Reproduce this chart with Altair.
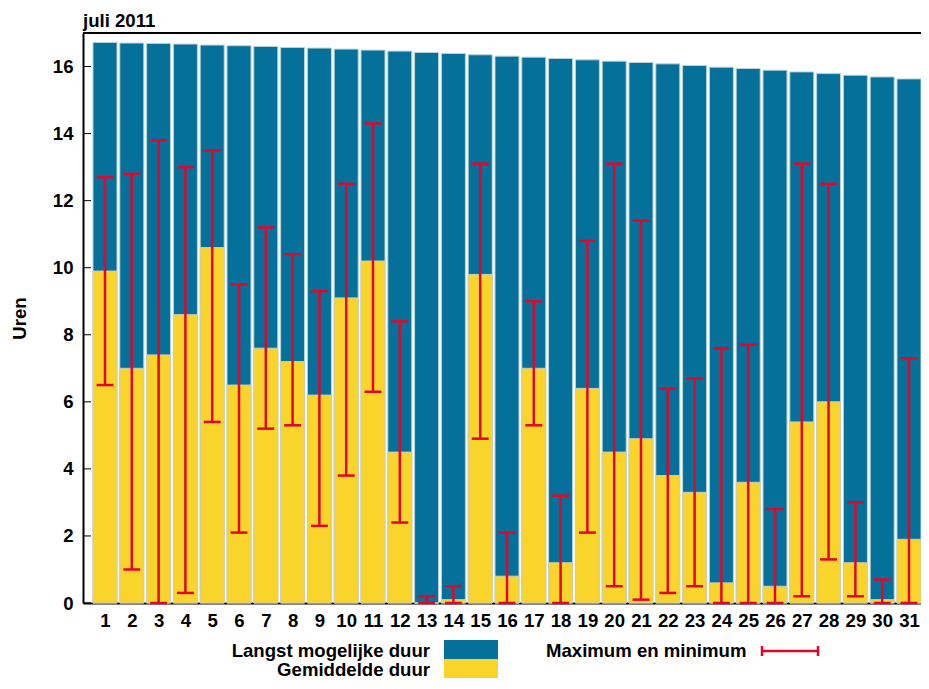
import altair as alt
import pandas as pd

# ---- data ----
dagen = list(range(1, 32))
langst = [16.72, 16.70, 16.69, 16.67, 16.64, 16.62, 16.60, 16.57, 16.55, 16.52,
          16.49, 16.46, 16.42, 16.39, 16.35, 16.31, 16.28, 16.24, 16.20, 16.16,
          16.12, 16.08, 16.03, 15.98, 15.94, 15.89, 15.84, 15.79, 15.74, 15.69, 15.63]
gemiddeld = [9.9, 7.0, 7.4, 8.6, 10.6, 6.5, 7.6, 7.2, 6.2, 9.1,
             10.2, 4.5, 0.0, 0.1, 9.8, 0.8, 7.0, 1.2, 6.4, 4.5,
             4.9, 3.8, 3.3, 0.6, 3.6, 0.5, 5.4, 6.0, 1.2, 0.1, 1.9]
maximum = [12.7, 12.8, 13.8, 13.0, 13.5, 9.5, 11.2, 10.4, 9.3, 12.5,
           14.3, 8.4, 0.2, 0.5, 13.1, 2.1, 9.0, 3.2, 10.8, 13.1,
           11.4, 6.4, 6.7, 7.6, 7.7, 2.8, 13.1, 12.5, 3.0, 0.7, 7.3]
minimum = [6.5, 1.0, 0.0, 0.3, 5.4, 2.1, 5.2, 5.3, 2.3, 3.8,
           6.3, 2.4, 0.0, 0.0, 4.9, 0.0, 5.3, 0.0, 2.1, 0.5,
           0.1, 0.3, 0.5, 0.0, 0.0, 0.0, 0.2, 1.3, 0.2, 0.0, 0.0]
y_ticks = [0, 2, 4, 6, 8, 10, 12, 14, 16]
title_text = "juli 2011"
y_title = "Uren"
legend_labels = ["Langst mogelijke duur", "Gemiddelde duur", "Maximum en minimum"]

# ---- style ----
BLUE = "#05709a"
YELLOW = "#f9d42a"
RED = "#e3062c"
EDGE = "#b9d3da"
FONT = "Liberation Sans"
FS = 18.6
W, H = 838, 570

df = pd.DataFrame({"dag": dagen, "langst": langst, "gemiddeld": gemiddeld,
                   "maximum": maximum, "minimum": minimum})

xscale = alt.Scale(domain=[0.179, 31.448], nice=False, zero=False)
yscale = alt.Scale(domain=[0, 17], nice=False, zero=False)

xaxis = alt.Axis(values=dagen, title=None, ticks=False, tickSize=0, labelPadding=8,
                 labelFontSize=FS, labelFont=FONT, labelFontWeight="bold",
                 labelColor="black", domainColor="black", domainWidth=2, grid=False,
                 labelFlush=False, labelOverlap=False, labelBound=False)
yaxis = alt.Axis(values=y_ticks, title=y_title, titleFont=FONT, titleFontSize=FS,
                 titleFontWeight="bold", titleColor="black", titlePadding=23,
                 ticks=False, tickSize=0, labelPadding=10, labelFontSize=FS,
                 labelFont=FONT, labelFontWeight="bold", labelColor="black",
                 domainColor="black", domainWidth=2, grid=False, labelOverlap=False)

base = alt.Chart(df).transform_calculate(
    x0="datum.dag - 0.448", x1="datum.dag + 0.448",
    c0="datum.dag - 0.315", c1="datum.dag + 0.315")

blue = base.mark_rect(color=BLUE, stroke=EDGE, strokeWidth=1).encode(
    x=alt.X("x0:Q", scale=xscale, axis=xaxis), x2="x1:Q",
    y=alt.Y("langst:Q", scale=yscale, axis=yaxis), y2=alt.datum(0))
yellow = base.mark_rect(color=YELLOW, stroke="#cfcdb8", strokeWidth=1).encode(
    x=alt.X("x0:Q", scale=xscale, axis=xaxis), x2="x1:Q",
    y=alt.Y("gemiddeld:Q", scale=yscale, axis=yaxis), y2=alt.datum(0))
err = base.mark_rule(color=RED, strokeWidth=2.5).encode(
    x=alt.X("dag:Q", scale=xscale, axis=xaxis),
    y=alt.Y("minimum:Q", scale=yscale, axis=yaxis), y2="maximum:Q")
cap_max = base.mark_rule(color=RED, strokeWidth=2.5).encode(
    x=alt.X("c0:Q", scale=xscale, axis=xaxis), x2="c1:Q",
    y=alt.Y("maximum:Q", scale=yscale, axis=yaxis))
cap_min = base.mark_rule(color=RED, strokeWidth=2.5).encode(
    x=alt.X("c0:Q", scale=xscale, axis=xaxis), x2="c1:Q",
    y=alt.Y("minimum:Q", scale=yscale, axis=yaxis))

ticks = alt.Chart(pd.DataFrame({"t": y_ticks})).mark_rule(color="black", strokeWidth=1).encode(
    y=alt.Y("t:Q", scale=yscale, axis=yaxis), x=alt.value(0), x2=alt.value(8))
one = pd.DataFrame({"a": [0]})
top_border = alt.Chart(one).mark_rule(color="black", strokeWidth=2).encode(
    x=alt.value(0), x2=alt.value(W), y=alt.value(0))

title = alt.Chart(one).mark_text(text=title_text, align="left", baseline="alphabetic",
                                 font=FONT, fontSize=FS, fontWeight="bold", color="black").encode(
    x=alt.value(0), y=alt.value(-6))

txt = dict(font=FONT, fontSize=FS, fontWeight="bold", color="black", baseline="alphabetic")
lab1 = alt.Chart(one).mark_text(text=legend_labels[0], align="right", **txt).encode(
    x=alt.value(347), y=alt.value(624))
lab2 = alt.Chart(one).mark_text(text=legend_labels[1], align="right", **txt).encode(
    x=alt.value(347), y=alt.value(643))
lab3 = alt.Chart(one).mark_text(text=legend_labels[2], align="left", **txt).encode(
    x=alt.value(463), y=alt.value(624))
sw1 = alt.Chart(one).mark_rect(color=BLUE).encode(
    x=alt.value(361), x2=alt.value(415), y=alt.value(607), y2=alt.value(626))
sw2 = alt.Chart(one).mark_rect(color=YELLOW).encode(
    x=alt.value(361), x2=alt.value(415), y=alt.value(626), y2=alt.value(645))
sym_line = alt.Chart(one).mark_rule(color=RED, strokeWidth=2.5).encode(
    x=alt.value(679), x2=alt.value(735), y=alt.value(618))
sym_c1 = alt.Chart(one).mark_rule(color=RED, strokeWidth=2.5).encode(
    x=alt.value(679), y=alt.value(613), y2=alt.value(623))
sym_c2 = alt.Chart(one).mark_rule(color=RED, strokeWidth=2.5).encode(
    x=alt.value(735), y=alt.value(613), y2=alt.value(623))

chart = alt.layer(
    blue, yellow, err, cap_max, cap_min, ticks, top_border, title,
    lab1, lab2, lab3, sw1, sw2, sym_line, sym_c1, sym_c2
).properties(
    width=W, height=H,
    autosize=alt.AutoSizeParams(type="none"),
    padding={"left": 75, "top": 25, "right": 0, "bottom": 78},
).configure_view(stroke=None).configure_axisX(labelOverlap=False).configure(background="white")

chart.save("out.html", embed_options={"renderer": "svg", "actions": False})
